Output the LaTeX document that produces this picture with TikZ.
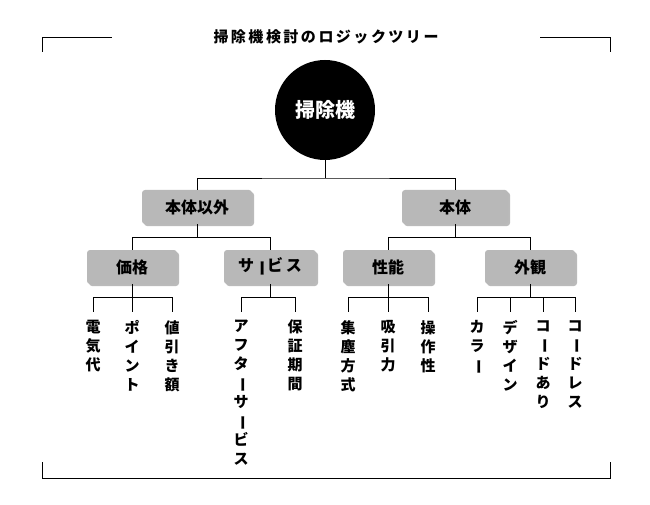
\documentclass[tikz,border=0pt]{standalone}
\usepackage{fontspec}
\setmainfont{Noto Sans CJK JP}
\usetikzlibrary{shadows}
\newcommand\vbar{\rotatebox[origin=c]{-90}{ー}}
\tikzset{
  catbox/.style={draw=none,fill=black!28,rounded corners=3pt,minimum height=34pt,
    font=\fontsize{16}{18}\selectfont\bfseries,
    drop shadow={shadow xshift=2pt,shadow yshift=-2pt,fill=black!45,opacity=0.6}},
  leaf/.style={anchor=north,align=center,inner sep=0pt,
    font=\fontsize{15}{19}\selectfont\bfseries},
  tree/.style={line width=0.8pt}
}
\begin{document}
\begin{tikzpicture}[x=1pt,y=-1pt]
  \useasboundingbox (0,0) rectangle (650,505);
  % Frame
  \draw[tree] (42,52) -- (42,37) -- (112,37);
  \draw[tree] (540,37) -- (610,37) -- (610,52);
  \draw[tree] (42,462) -- (42,478) -- (610,478) -- (610,462);
  \node[font=\fontsize{15}{15}\selectfont\bfseries] (title) at (326,37)
    {掃\,除\,機\,検\,討\,の\,ロ\,ジ\,ッ\,ク\,ツ\,リ\,ー};

  % Root
  \node[circle,fill=black,text=white,minimum size=100pt,
    font=\fontsize{20}{22}\selectfont\bfseries] (root) at (325,110) {掃除機};

  % Level 1
  \node[catbox,minimum width=110pt] (other) at (197,207) {本体以外};
  \node[catbox,minimum width=106pt] (body) at (455,207) {本体};

  % Level 2
  \node[catbox,minimum width=90pt] (price) at (132,267) {価格};
  \node[catbox,minimum width=92pt] (service) at (270,267) {サ\,\vbar\,ビ\,ス};
  \node[catbox,minimum width=90pt] (perf) at (388,267) {性能};
  \node[catbox,minimum width=90pt] (look) at (530,267) {外観};

  % Leaves
  \node[leaf] (p1) at (93,320) {電\\気\\代};
  \node[leaf] (p2) at (132,320) {ポ\\イ\\ン\\ト};
  \node[leaf] (p3) at (172,320) {値\\引\\き\\額};
  \node[leaf] (s1) at (241,320) {ア\\フ\\タ\\\vbar\\サ\\\vbar\\ビ\\ス};
  \node[leaf] (s2) at (295,320) {保\\証\\期\\間};
  \node[leaf] (f1) at (348,320) {集\\塵\\方\\式};
  \node[leaf] (f2) at (388,320) {吸\\引\\力};
  \node[leaf] (f3) at (428,320) {操\\作\\性};
  \node[leaf] (l1) at (477,320) {カ\\ラ\\\vbar};
  \node[leaf] (l2) at (510,320) {デ\\ザ\\イ\\ン};
  \node[leaf] (l3) at (543,320) {コ\\\vbar\\ド\\あ\\り};
  \node[leaf] (l4) at (575,320) {コ\\\vbar\\ド\\レ\\ス};

  % Connectors
  \draw[tree] (root.south) -- (325,178);
  \draw[tree] (other.north) |- (325,178) -| (body.north);
  \draw[tree] (other.south) -- ++(0,13) coordinate (o1);
  \draw[tree] (price.north) |- (o1) -| (service.north);
  \draw[tree] (body.south) -- ++(0,13) coordinate (b1);
  \draw[tree] (perf.north) |- (b1) -| (look.north);
  \foreach \grp/\kids in {price/{p1,p2,p3},service/{s1,s2},perf/{f1,f2,f3},look/{l1,l2,l3,l4}} {
    \draw[tree] (\grp.south) -- ++(0,13) coordinate (\grp-j);
    \foreach \k in \kids
      \draw[tree] (\k.north |- \grp-j) -- ++(0,15);
  }
  \draw[tree] (p1.north |- price-j) -- (p3.north |- price-j);
  \draw[tree] (s1.north |- service-j) -- (s2.north |- service-j);
  \draw[tree] (f1.north |- perf-j) -- (f3.north |- perf-j);
  \draw[tree] (l1.north |- look-j) -- (l4.north |- look-j);
\end{tikzpicture}
\end{document}
